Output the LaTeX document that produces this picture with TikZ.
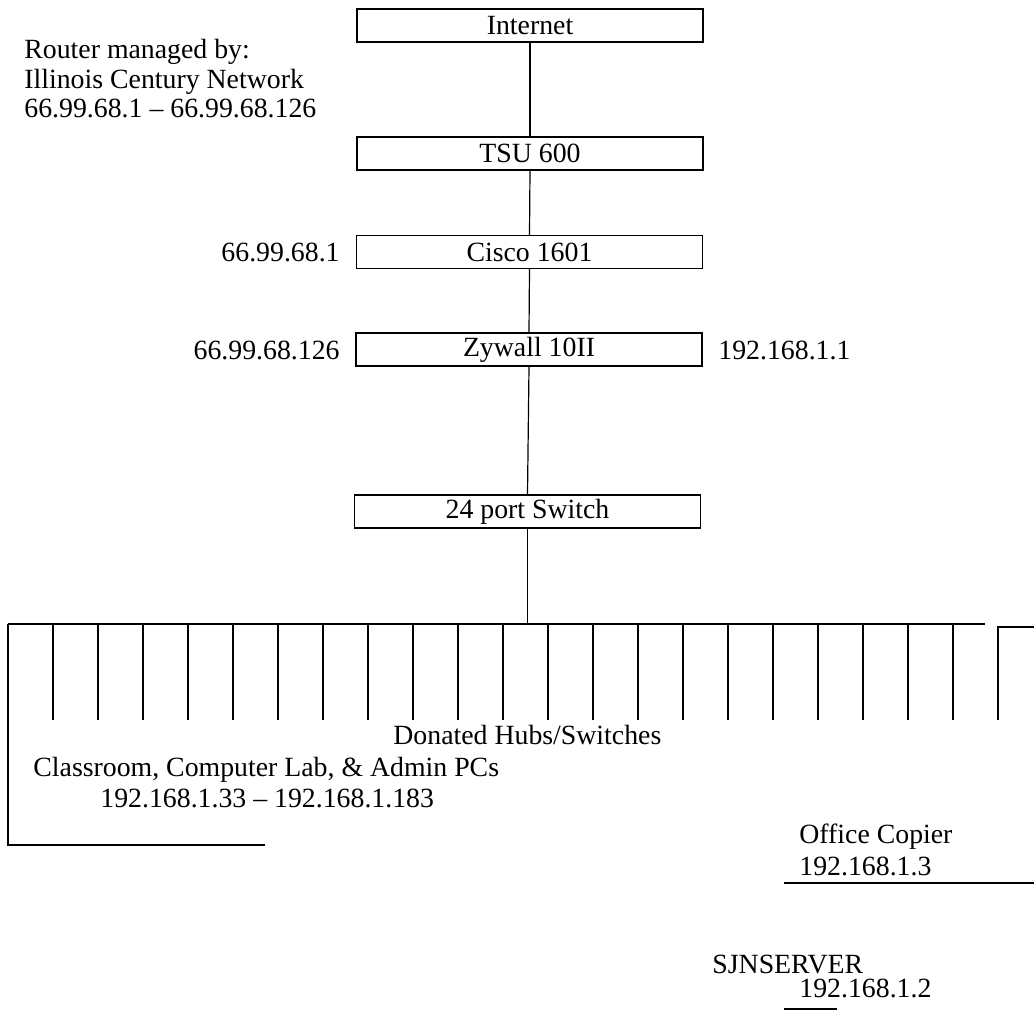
\documentclass[tikz,border=0pt]{standalone}
\usepackage{fontspec}
\setmainfont{Liberation Serif}
\usepackage{tikz}
\usetikzlibrary{positioning,calc}

\tikzset{
  devbox/.style={draw,line width=0.6pt,minimum width=173pt,minimum height=16.5pt,inner sep=0pt,font=\fontsize{13.9}{16}\selectfont},
  lbl/.style={inner sep=0pt,font=\fontsize{13.9}{16}\selectfont},
  wire/.style={line width=0.6pt}
}

\begin{document}
\begin{tikzpicture}[x=0.5pt,y=-0.5pt]
\useasboundingbox (0,0) rectangle (1034,1011);
% devices
\node[devbox] (inet) at (530,25.5) {Internet};
\node[devbox] (tsu) at (530,153.5) {TSU 600};
\node[devbox] (cisco) at (529.5,252) {Cisco 1601};
\node[devbox] (zywall) at (529,349.5) {Zywall 10II};
\node[devbox] (sw) at (527.5,511.5) {24 port Switch};
\draw[wire] (inet.south) -- (tsu.north);
\draw[wire] (tsu.south) -- (cisco.north);
\draw[wire] (cisco.south) -- (zywall.north);
\draw[wire] (zywall.south) -- (sw.north);
% labels
\node[lbl,anchor=base west] (rt1) at (24,59) {Router managed by:};
\node[lbl,anchor=base west] (rt2) at (24,89) {Illinois Century Network};
\node[lbl,anchor=base west] (rt3) at (24,118) {66.99.68.1 -- 66.99.68.126};
\node[lbl,anchor=east] (ciscoip) at (340,252) {66.99.68.1};
\node[lbl,anchor=east] (wanip) at (340,350) {66.99.68.126};
\node[lbl,anchor=west] (lanip) at (718,350) {192.168.1.1};
% hub bus
\coordinate (busL) at (8,624);
\coordinate (busR) at (985,624);
\coordinate (tap) at (sw.south |- busL);
\draw[wire] (sw.south) -- (tap);
\draw[wire] (busL) -- (busR);
\foreach \i in {1,...,21}
  \draw[wire] (8+45*\i,624) -- ++(0,96);
\draw[wire] (1034,627) -- (998,627) -- (998,720);
\draw[wire] (busL) -- (8,845) -- (265,845);
\node[lbl,anchor=base west] (hubs) at (393,744) {Donated Hubs/Switches};
\node[lbl,anchor=base west] (pcs) at (33,776) {Classroom, Computer Lab, \& Admin PCs};
\node[lbl,anchor=base west] (pcsip) at (100,807) {192.168.1.33 -- 192.168.1.183};
% copier and server
\node[lbl,anchor=base west] (copier) at (799,843) {Office Copier};
\node[lbl,anchor=base west] (copierip) at (799,875) {192.168.1.3};
\draw[wire] (784,883) -- (1034,883);
\node[lbl,anchor=base west] (srv) at (712,973) {SJNSERVER};
\node[lbl,anchor=base west] (srvip) at (799,997) {192.168.1.2};
\draw[wire] (784,1009) -- (837,1009);
\end{tikzpicture}
\end{document}
